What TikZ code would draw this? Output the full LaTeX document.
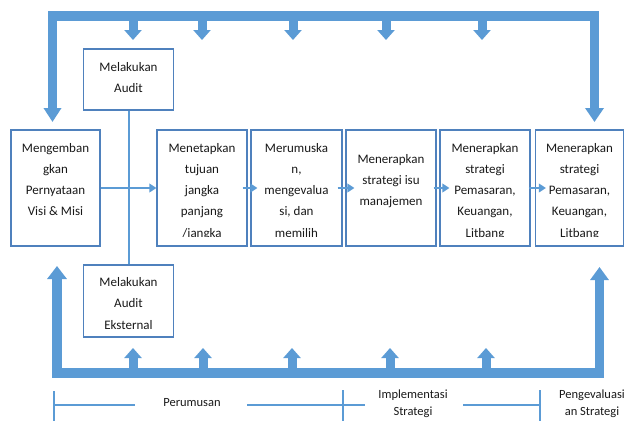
\documentclass[tikz,border=0pt]{standalone}
\usepackage{fontspec}
\setmainfont{Carlito}
\usetikzlibrary{arrows.meta}
\definecolor{barblue}{HTML}{5B9BD5}
\definecolor{boxblue}{HTML}{4F81BD}
\definecolor{lineblue}{HTML}{5B9BD5}
\newcommand{\boxlabel}[5]{%
  \begin{scope}
  \clip ([yshift=#5]#1.south west) rectangle (#1.north east);
  \node[boxtext] (#2) at ([yshift=-#3]#1.north) {#4};
  \end{scope}}
\tikzset{
  box/.style={draw=boxblue, line width=1.1pt, fill=white, inner sep=0pt, minimum width=90pt, minimum height=116pt},
  boxtext/.style={font=\fontsize{13}{21.25}\selectfont, align=center, inner sep=0pt, anchor=north, text=black!90},
  bigbar/.style={draw=barblue, line width=9.5pt, line join=miter, line cap=butt},
  smallbar/.style={draw=barblue, line width=9pt, -{Triangle[width=17pt,length=10pt]}},
  conn/.style={draw=lineblue, line width=2.6pt, -{Triangle[width=8.5pt,length=7pt]}},
  plainline/.style={draw=lineblue, line width=2pt},
  label/.style={font=\fontsize{12.5}{17}\selectfont, align=center, inner sep=0pt, text=black!90}
}
\begin{document}
\begin{tikzpicture}[x=1pt,y=-1pt]
\useasboundingbox (0,0) rectangle (625,421);
% boxes
\node[box, minimum width=89pt] (vm) at (55.5,188) {};
\node[box] (tj) at (202,188) {};
\node[box, minimum width=91pt] (rm) at (296.5,188) {};
\node[box] (si) at (391,188) {};
\node[box] (p1) at (485,188) {};
\node[box, minimum width=88pt] (p2) at (579.5,188) {};
\node[box, minimum height=61pt] (au) at (128.5,79.5) {};
\node[box, minimum height=72pt] (ek) at (128.5,301) {};
\boxlabel{vm}{vmt}{13.5pt}{Mengemban\\gkan\\Pernyataan\\Visi \& Misi}{10pt}
\boxlabel{tj}{tjt}{13.5pt}{Menetapkan\\tujuan\\jangka\\panjang\\/jangka}{10pt}
\boxlabel{rm}{rmt}{13.5pt}{Merumuska\\n,\\mengevalua\\si, dan\\memilih}{10pt}
\boxlabel{si}{sit}{24.5pt}{Menerapkan\\strategi isu\\manajemen}{10pt}
\boxlabel{p1}{p1t}{13.5pt}{Menerapkan\\strategi\\Pemasaran,\\Keuangan,\\Litbang}{10pt}
\boxlabel{p2}{p2t}{13.5pt}{Menerapkan\\strategi\\Pemasaran,\\Keuangan,\\Litbang}{10pt}
\boxlabel{au}{aut}{13.5pt}{Melakukan\\Audit}{0pt}
\boxlabel{ek}{ekt}{13pt}{Melakukan\\Audit\\Eksternal}{0pt}
% connectors
\draw[plainline] (au.south) -- (ek.north);
\draw[conn] (vm.east) -- (tj.west);
\draw[conn] ([xshift=-5pt]tj.east) -- ([xshift=7pt]rm.west);
\draw[conn] ([xshift=-5pt]rm.east) -- ([xshift=9pt]si.west);
\draw[conn] ([xshift=-3pt]si.east) -- ([xshift=10pt]p1.west);
\draw[conn] ([xshift=-2pt]p1.east) -- ([xshift=11pt]p2.west);
% top feedback bar
\coordinate (tl) at (52.5,122);
\coordinate (tr) at (594.5,122);
\draw[bigbar, {Triangle[width=17pt,length=14pt]}-{Triangle[width=18pt,length=14pt]}] (tl) -- (52.5,16) -- (594.5,16) -- (tr);
\foreach \x/\n in {133/a,202/b,293/c,386/d,482/e}{
  \coordinate (t\n) at (\x,40);
  \draw[smallbar] (\x,18) -- (t\n);
}
% bottom feedback bar
\coordinate (bl) at (57,266);
\coordinate (br) at (599.5,267);
\draw[bigbar, {Triangle[width=19pt,length=13pt]}-{Triangle[width=18pt,length=13pt]}] (bl) -- (57,373) -- (599.5,373) -- (br);
\foreach \x/\n in {133/a,203/b,292/c,390/d,486/e}{
  \coordinate (b\n) at (\x,348);
  \draw[smallbar] (\x,371) -- (b\n);
}
% timeline
\node[label] (perum) at (192,403) {Perumusan};
\node[label] (impl) at (413,404) {Implementasi\\Strategi};
\node[label] (peng) at (592,403.5) {Pengevaluasi\\an Strategi};
\coordinate (k1) at (54,405);
\coordinate (k2) at (343,405);
\coordinate (k3) at (540,405);
\draw[plainline] (54,391) -- (54,421);
\draw[plainline] (343,390) -- (343,421);
\draw[plainline] (540,390) -- (540,421);
\draw[plainline] (k1) -- (135,405);
\draw[plainline] (247,405) -- (k2) -- (365,405);
\draw[plainline] (463,405) -- (k3);
\end{tikzpicture}
\end{document}
